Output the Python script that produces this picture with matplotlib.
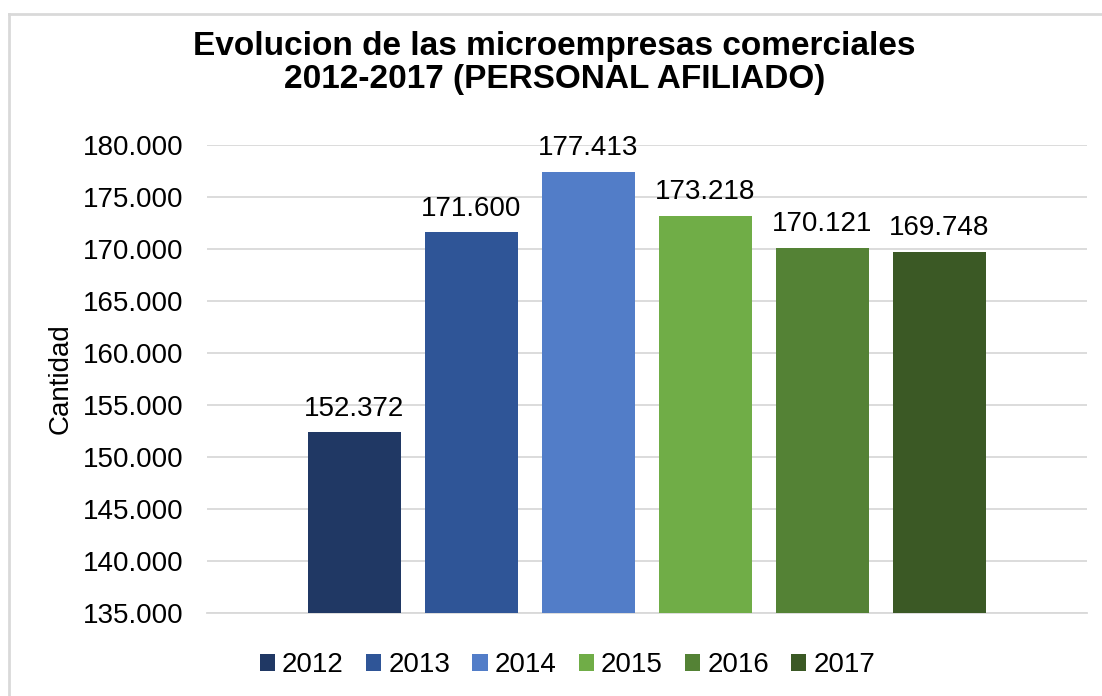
import matplotlib
matplotlib.use("Agg")
import matplotlib.pyplot as plt
from matplotlib.ticker import FuncFormatter
from matplotlib.lines import Line2D
from matplotlib.patches import Patch

years = ["2012", "2013", "2014", "2015", "2016", "2017"]
values = [152372, 171600, 177413, 173218, 170121, 169748]
colors = ["#203864", "#2F5597", "#527DC8", "#70AD47", "#548235", "#3B5925"]
title = "Evolucion de las microempresas comerciales\n2012-2017 (PERSONAL AFILIADO)"
ylabel = "Cantidad"

plt.rcParams["font.family"] = ["Liberation Sans", "DejaVu Sans"]

fig = plt.figure(figsize=(11.02, 6.96), dpi=100)
ax = fig.add_axes([207/1102, 1-613/696, 880/1102, (613-145)/696])

def fmt(v):
    return f"{v:,.0f}".replace(",", ".")

x = list(range(len(years)))
bars = ax.bar(x, values, width=93/117, color=colors, zorder=3)
for xi, v in zip(x, values):
    ax.annotate(fmt(v), (xi, v), xytext=(0, 7.5), textcoords="offset points",
                ha="center", va="bottom", fontsize=20, color="#000000")

ax.set_xlim((207-354.5)/117, (1087-354.5)/117)
ax.set_ylim(135000, 180000)
ax.set_yticks(range(135000, 180001, 5000))
ax.yaxis.set_major_formatter(FuncFormatter(lambda v, p: fmt(v)))
ax.tick_params(axis="y", length=0, pad=17, labelsize=20, labelcolor="#000000")
ax.set_xticks([])
ax.grid(axis="y", color="#D9D9D9", linewidth=1.3, zorder=0)
for s in ["top", "right", "left"]:
    ax.spines[s].set_visible(False)
ax.spines["bottom"].set_color("#D9D9D9")
ax.spines["bottom"].set_linewidth(1.3)

ax.set_ylabel(ylabel, fontsize=20)
ax.yaxis.set_label_coords((74-207)/880, 0.5)

fig.text(0.503, 1-63/696, title, ha="center", va="center", fontsize=24,
         fontweight="bold", linespacing=1.12)

handles = [Patch(facecolor=c, edgecolor="none") for c in colors]
fig.legend(handles, years, loc="center", bbox_to_anchor=(0.515, 1-665/696),
           ncol=6, frameon=False, fontsize=20, handlelength=0.55, handleheight=0.55,
           handletextpad=0.25, columnspacing=0.8)

# partial border (left and top visible in reference)
fig.add_artist(Line2D([8.5/1102, 8.5/1102], [0, 1-14/696], color="#D9D9D9",
                      linewidth=2, transform=fig.transFigure))
fig.add_artist(Line2D([8.5/1102, 1], [1-14/696, 1-14/696], color="#D9D9D9",
                      linewidth=2, transform=fig.transFigure))

fig.savefig("out.png", dpi=100, facecolor="white")
